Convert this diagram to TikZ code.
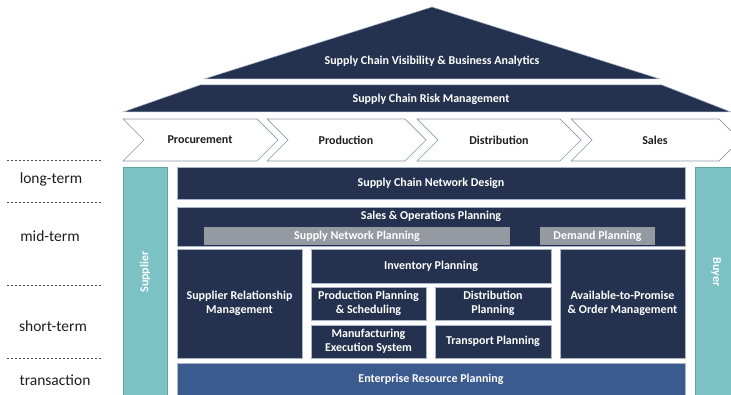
\documentclass[tikz,border=0pt]{standalone}
\usepackage{fontspec}
\setmainfont{Carlito}
\definecolor{navy}{HTML}{24324F}
\definecolor{erpblue}{HTML}{3B5A8E}
\definecolor{greybar}{HTML}{959AA2}
\definecolor{teal2}{HTML}{7CC1C4}
\definecolor{tealedge}{HTML}{5FA3A9}
\definecolor{edgeblue}{HTML}{A9B5CC}
\definecolor{chevedge}{HTML}{8E96A8}
\definecolor{txtdark}{HTML}{1E1E1E}
\newcommand\blk[7]{\node[#1, minimum width={(#4-#2)*1pt}, minimum height={(#5-#3)*1pt}] (#6) at ({(#2+#4)/2},{(#3+#5)/2}) {#7};}
\tikzset{
  navybox/.style={fill=navy, draw=edgeblue, line width=0.6pt, text=white, font=\bfseries\fontsize{12}{14}\selectfont, align=center, inner sep=0pt, outer sep=0pt},
  erpbox/.style={navybox, fill=erpblue},
  greybox/.style={fill=greybar, draw=none, text=white, font=\bfseries\fontsize{12}{14}\selectfont, inner sep=0pt},
  tealbox/.style={fill=teal2, draw=tealedge, line width=0.6pt, inner sep=0pt},
  roofshape/.style={fill=navy, draw=edgeblue, line width=0.5pt},
  rooftext/.style={text=white, font=\bfseries\fontsize{12}{14}\selectfont},
  chevshape/.style={fill=white, draw=chevedge, line width=0.7pt},
  chevtext/.style={text=txtdark, font=\bfseries\fontsize{12}{14}\selectfont},
  horizon/.style={font=\fontsize{15.5}{18}\selectfont, text=txtdark},
  sepline/.style={draw=txtdark!80, line width=0.6pt, dash pattern=on 2.4pt off 1.6pt},
  sidetext/.style={text=white, font=\bfseries\fontsize{12}{14}\selectfont}
}
\begin{document}
\begin{tikzpicture}[x=1pt,y=-1pt]
\useasboundingbox (0,0) rectangle (731,395);
\begin{scope}
\clip (0,0) rectangle (731,395);
% roof
\path[roofshape] (432,7) -- (660,79) -- (204,79) -- cycle;
\node[rooftext] (vis) at (432,61) {Supply Chain Visibility \& Business Analytics};
\path[roofshape] (200,85) -- (662,85) -- (731,112) -- (123,112) -- cycle;
\node[rooftext] (risk) at (431,99) {Supply Chain Risk Management};
% chevrons
\path[chevshape] (123,119) -- (257,119) -- (278,140) -- (257,161) -- (123,161) -- (144,140) -- cycle;
\path[chevshape] (267,119) -- (405,119) -- (426,140) -- (405,161) -- (267,161) -- (288,140) -- cycle;
\path[chevshape] (417,119) -- (560,119) -- (581,140) -- (560,161) -- (417,161) -- (438,140) -- cycle;
\path[chevshape] (571,119) -- (719,119) -- (740,140) -- (719,161) -- (571,161) -- (592,140) -- cycle;
\end{scope}
\node[chevtext] (proc) at (200,140) {Procurement};
\node[chevtext] (prod) at (346,140.5) {Production};
\node[chevtext] (dist) at (499,140.5) {Distribution};
\node[chevtext] (sales) at (655,140.5) {Sales};
% time horizons
\coordinate (d1a) at (7,160); \coordinate (d1b) at (102,160);
\coordinate (d2a) at (7,202); \coordinate (d2b) at (102,202);
\coordinate (d3a) at (7,285); \coordinate (d3b) at (102,285);
\coordinate (d4a) at (7,358); \coordinate (d4b) at (102,358);
\draw[sepline] (d1a) -- (d1b);
\draw[sepline] (d2a) -- (d2b);
\draw[sepline] (d3a) -- (d3b);
\draw[sepline] (d4a) -- (d4b);
\node[horizon] (lt) at (51,179) {long-term};
\node[horizon] (mt) at (50,236) {mid-term};
\node[horizon] (st) at (53,326) {short-term};
\node[horizon] (tr) at (55,380) {transaction};
% side bars
\blk{tealbox}{123}{167}{167}{396}{supplier}{}
\node[sidetext, rotate=90] (suppliertxt) at (145,272) {Supplier};
\blk{tealbox}{695}{167}{732}{396}{buyer}{}
\node[sidetext, rotate=-90] (buyertxt) at (716,272) {Buyer};
% main blocks
\blk{navybox}{177}{167}{685}{199}{scnd}{Supply Chain Network Design}
\blk{navybox}{177}{207}{685}{246}{sop}{}
\node[rooftext] (soptxt) at (431,216) {Sales \& Operations Planning};
\blk{greybox}{204}{227}{510}{245}{snp}{Supply Network Planning}
\blk{greybox}{540}{227}{655}{245}{dp}{Demand Planning}
\blk{navybox}{177}{249}{302}{358}{srm}{Supplier Relationship\\Management}
\blk{navybox}{311}{249}{551}{283}{inv}{Inventory Planning}
\blk{navybox}{311}{287}{426}{320}{pps}{Production Planning\\\& Scheduling}
\blk{navybox}{435}{287}{551}{320}{dplan}{Distribution\\Planning}
\blk{navybox}{311}{325}{426}{358}{mes}{Manufacturing\\Execution System}
\blk{navybox}{435}{325}{551}{358}{tp}{Transport Planning}
\blk{navybox}{560}{249}{685}{358}{atp}{Available-to-Promise\\\& Order Management}
\blk{erpbox}{177}{363}{685}{396}{erp}{Enterprise Resource Planning}
\end{tikzpicture}
\end{document}
